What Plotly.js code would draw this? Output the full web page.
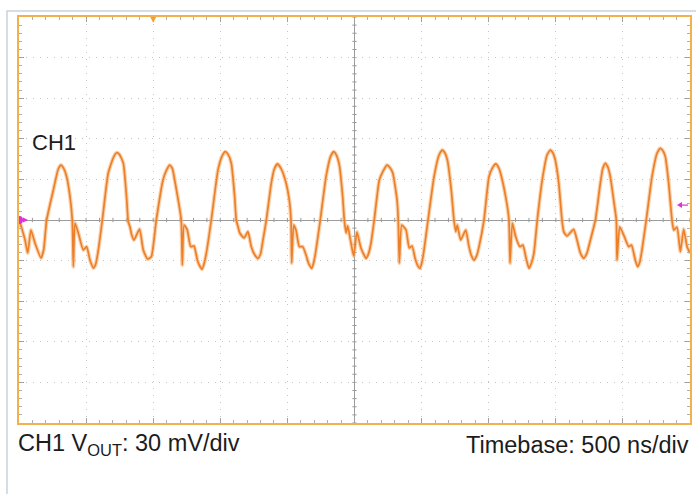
<!DOCTYPE html>
<html>
<head>
<meta charset="utf-8">
<script src="https://cdn.plot.ly/plotly-3.0.1.min.js"></script>
<style>
html,body{margin:0;padding:0;background:#fff;}
#chart{width:696px;height:494px;}
</style>
</head>
<body>
<div id="chart"></div>
<script>
// Time axis (ns) and CH1 Vout (mV) read from the scope capture
const time_ns = [
  -2500,-2480,-2455,-2435,-2411,-2381,-2336,-2316,-2294,-2244,-2208,-2187,-2166,
  -2145,-2120,-2103,-2095,-2083,-2058,-2021,-1996,-1971,-1946,-1928,-1909,-1879,
  -1835,-1795,-1772,-1752,-1723,-1697,-1686,-1673,-1660,-1643,-1602,-1574,-1542,-1514,
  -1477,-1427,-1400,-1377,-1357,-1340,-1310,-1291,
  -1283,-1270,-1246,-1221,-1196,-1171,-1153,-1136,-1120,-1104,-1067,
  -1017,-985,-963,-942,-918,-893,-881,-868,-855,
  -823,-794,-769,-745,-719,-700,-682,-657,
  -620,-598,-575,-548,-510,-486,-473,
  -468,-453,-436,-411,-386,-361,-340,-319,-303,-287,-255,
  -212,-178,-155,-135,-113,-88,-76,-63,
  -51,-30,-6,18,48,86,104,123,147,
  185,215,242,262,285,317,326,
  334,352,384,408,429,451,470,488,503,518,548,
  593,630,654,674,692,721,741,
  754,766,791,829,853,870,890,910,928,965,
  1002,1028,1052,1075,1101,1139,1151,
  1159,1176,1201,1233,1255,1278,1300,1318,1337,1362,
  1399,1435,1459,1479,1496,1522,1546,
  1559,1583,1633,1658,1683,1708,1732,1758,1795,
  1832,1850,1869,1888,1906,1931,1951,
  1956,1976,2006,2043,2064,2092,2110,2126,2142,2174,
  2217,2255,2279,2299,2316,2341,2366,
  2379,2403,2428,2453,2478,2500
];
const vout_mV = [
  0,-5.9,-14.8,-24.4,-7.4,-17,-28.1,-22,0,22.2,37.5,40.6,38,
  32,17.2,0,-34.5,-2.2,-9.6,-22.2,-19.7,-29.6,-35.5,-32.5,-22.2,0,
  34.7,46.5,49.7,48.5,42.1,14.8,-1.3,-5,-11.1,-14.8,-6.7,-22.2,-28.8,-27.1,
  0,29.6,37,40.6,38,29.6,12.6,0,
  -33.3,-3.7,-7.4,-19.7,-19.2,-29.6,-34,-36.4,-32,-24.4,0,
  37,47.5,50.5,48.5,41.9,17.2,0,-5,-9.6,
  -13.3,-8.6,-19.7,-25.5,-28.3,-25,-14.8,0,
  27.3,37.5,41.4,38.2,27.3,14.8,0,
  -31.8,-3.7,-7.4,-19.7,-19.7,-25.9,-32.5,-35.7,-31,-22.2,0,
  32,47,50.5,48,40.6,17.2,0,-9.6,
  -4.4,-14.8,-26.6,-8.9,-20.7,-28.3,-25,-17,0,
  29.6,36.5,40.6,39,34.7,14.8,0,
  -31.8,-3.7,-7.4,-20.7,-19.2,-28.1,-33.5,-35.7,-31,-22.2,0,
  32,48,51.7,49.5,44.3,22.2,0,
  -8.6,-3.7,-14.8,-7.4,-19.7,-26,-29.6,-26.5,-19.7,0,
  32,38.5,41.4,38.5,29.6,9.8,0,
  -31.8,-2.2,-12.3,-19.7,-18.5,-28.1,-35.7,-32,-24.4,0,
  29.6,48,51.7,49.5,44.3,27.3,0,
  -8.6,-11.8,-6.9,-14.8,-24.4,-28.3,-24.5,-14.8,0,
  27.3,38,41.9,39,32,14.8,0,
  -29.6,-5,-11.1,-19.7,-18.5,-29.6,-34.5,-31,-22.2,0,
  32,49.5,53,51,46.8,27.3,0,
  -7.4,-5.2,-23.4,-6.9,-19.7,-24.4
];

const channelLabel = 'CH1';
const scaleLabel = 'CH1 V<sub>OUT</sub>: 30 mV/div';
const timebaseLabel = 'Timebase: 500 ns/div';

const NS_PER_DIV = 500, MV_PER_DIV = 30;
const X_RANGE = [-5*NS_PER_DIV, 5*NS_PER_DIV];
const Y_RANGE = [-5*MV_PER_DIV, 5*MV_PER_DIV];
const TRIG_LEVEL_MV = 11;

const traces = [
  {x: time_ns, y: vout_mV, type: 'scatter', mode: 'lines',
   line: {color: 'rgba(247,178,115,0.6)', width: 4, shape: 'spline', smoothing: 0.5},
   hoverinfo: 'skip', showlegend: false},
  {x: time_ns, y: vout_mV, type: 'scatter', mode: 'lines',
   line: {color: '#ec7f2a', width: 1.7, shape: 'spline', smoothing: 0.5},
   showlegend: false}
];

const MAG = '#e030d8';
const shapes = [];
// outer light frame
shapes.push({type:'rect', xref:'paper', yref:'paper', x0:-0.0179, x1:1.05, y0:-0.3, y1:1.0148,
  line:{color:'#c6d3dc', width:1.5}, layer:'below'});
// centre crosshair small ticks
for (let i = -25; i <= 25; i++) {
  const t = i * NS_PER_DIV / 5;
  shapes.push({type:'line', xref:'x', yref:'y', x0:t, x1:t, y0:-1.6, y1:1.6,
    line:{color:'#9a9a9a', width:1}, layer:'below'});
}
for (let j = -25; j <= 25; j++) {
  const v = j * MV_PER_DIV / 5;
  shapes.push({type:'line', xref:'x', yref:'y', x0:-16, x1:16, y0:v, y1:v,
    line:{color:'#9a9a9a', width:1}, layer:'below'});
}
// trigger position marker (top)
shapes.push({type:'path', xref:'x', yref:'paper',
  path:'M -1522 1 L -1478 1 L -1500 0.986 Z', fillcolor:'#f0a030', line:{width:0}});
// ground marker (left): blob + small arrowhead
shapes.push({type:'circle', xref:'x', yref:'y', xsizemode:'pixel', ysizemode:'pixel',
  xanchor:X_RANGE[0], yanchor:0, x0:-3, x1:4, y0:-4, y1:4, fillcolor:MAG, line:{width:0}});
shapes.push({type:'path', xref:'x', yref:'y', xsizemode:'pixel', ysizemode:'pixel',
  xanchor:X_RANGE[0], yanchor:0, path:'M 4 -2.5 L 9 0 L 4 2.5 Z', fillcolor:MAG, line:{width:0}});
// trigger level marker (right)
shapes.push({type:'path', xref:'x', yref:'y', xsizemode:'pixel', ysizemode:'pixel',
  xanchor:X_RANGE[1], yanchor:TRIG_LEVEL_MV, path:'M -13 0 L -8 -3 L -8 3 Z', fillcolor:MAG, line:{width:0}});
shapes.push({type:'path', xref:'x', yref:'y', xsizemode:'pixel', ysizemode:'pixel',
  xanchor:X_RANGE[1], yanchor:TRIG_LEVEL_MV, path:'M -9 0 L -2 0', line:{color:MAG, width:1.2}});

const FONT = {family:'Liberation Sans, Arial', size:23.5, color:'#1c1c1c'};
const annotations = [
  {xref:'paper', yref:'paper', x:0.0164, y:0.691, xanchor:'left', yanchor:'middle',
   text:channelLabel, showarrow:false, font:Object.assign({}, FONT, {size:22})},
  {xref:'paper', yref:'paper', x:-0.004, y:-0.053, xanchor:'left', yanchor:'middle',
   text:scaleLabel, showarrow:false, font:FONT},
  {xref:'paper', yref:'paper', x:1.002, y:-0.053, xanchor:'right', yanchor:'middle',
   text:timebaseLabel, showarrow:false, font:FONT}
];

const axisCommon = {
  showline:true, linecolor:'#f3b04e', linewidth:2, mirror:'ticks',
  ticks:'inside', ticklen:5, tickwidth:1, tickcolor:'#a0a0a0',
  showticklabels:false,
  showgrid:true, gridcolor:'#c4c4c4', gridwidth:1, griddash:'1px,6px',
  zeroline:true, zerolinecolor:'#9c9c9c', zerolinewidth:1,
  fixedrange:true
};

const layout = {
  width:696, height:494,
  margin:{l:19, r:6, t:17, b:71},
  paper_bgcolor:'#ffffff', plot_bgcolor:'#ffffff',
  xaxis: Object.assign({}, axisCommon, {range:X_RANGE, tick0:X_RANGE[0], dtick:NS_PER_DIV,
    minor:{ticks:'inside', ticklen:3, tickcolor:'#b0b0b0', dtick:NS_PER_DIV/5, showgrid:false}}),
  yaxis: Object.assign({}, axisCommon, {range:Y_RANGE, tick0:Y_RANGE[0], dtick:MV_PER_DIV,
    minor:{ticks:'inside', ticklen:3, tickcolor:'#b0b0b0', dtick:MV_PER_DIV/5, showgrid:false}}),
  shapes: shapes,
  annotations: annotations,
  showlegend:false
};

Plotly.newPlot('chart', traces, layout, {displayModeBar:false, staticPlot:true});
</script>
</body>
</html>
